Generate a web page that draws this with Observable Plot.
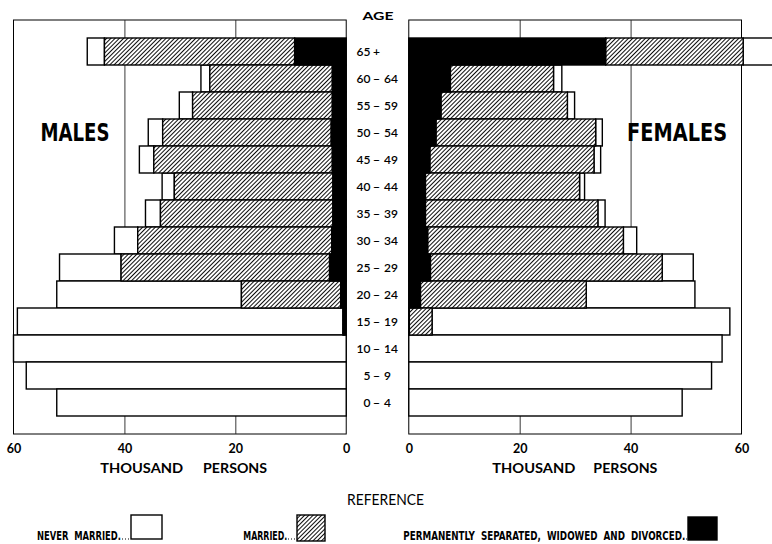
<!DOCTYPE html>
<html><head><meta charset="utf-8">
<script src="https://cdn.jsdelivr.net/npm/d3@7"></script>
<script src="https://cdn.jsdelivr.net/npm/@observablehq/plot@0.6"></script>
<style>
body{margin:0;background:#fff;width:772px;height:544px;overflow:hidden;position:relative}
#chart svg{display:block}
#legend svg{display:block}
</style></head><body>
<svg width="0" height="0" style="position:absolute"><defs>
<pattern id="hatch" patternUnits="userSpaceOnUse" width="3" height="3" patternTransform="rotate(45)">
<rect width="3" height="3" fill="white"/><line x1="0.5" y1="-1" x2="0.5" y2="4" stroke="black" stroke-width="0.95"/></pattern></defs></svg>
<div id="chart"></div>
<div id="legend"></div>
<script>
// ---- data (thousand persons) ----
const ages = ["65+","60-64","55-59","50-54","45-49","40-44","35-39","30-34","25-29","20-24","15-19","10-14","5-9","0-4"];
const ageLow  = ["65","60","55","50","45","40","35","30","25","20","15","10","5","0"];
const ageSep  = ["+","−","−","−","−","−","−","−","−","−","−","−","−","−"];
const ageHigh = ["","64","59","54","49","44","39","34","29","24","19","14","9","4"];

const maleNever   = [3.1, 1.6, 2.4, 2.6, 2.6, 2.2, 2.7, 4.2, 11.1, 33.3, 58.7, 60.0, 57.7, 52.2];
const maleMarried = [34.3, 22.1, 25.2, 30.4, 32.2, 28.6, 31.1, 35.0, 37.6, 17.9, 0.2, 0, 0, 0];
const malePSWD    = [9.3, 2.5, 2.5, 2.7, 2.5, 2.4, 2.4, 2.6, 3.0, 1.0, 0.4, 0, 0, 0];

const femaleNever   = [7.5, 1.5, 1.3, 1.2, 1.2, 0.9, 1.3, 2.4, 5.6, 19.6, 53.7, 56.5, 54.6, 49.3];
const femaleMarried = [24.8, 18.6, 22.8, 28.8, 29.6, 27.8, 31.1, 35.3, 41.8, 29.9, 4.1, 0, 0, 0];
const femalePSWD    = [35.5, 7.5, 5.8, 4.9, 3.8, 3.0, 3.0, 3.4, 3.9, 2.1, 0.1, 0, 0, 0];

const tickValues = [60, 40, 20, 0];
const gridValues = [20, 40];

// ---- build table: males to the left, females to the right of a central gap ----
const G = 5.64; // half-width of the central age-label gap, in thousand persons
const rows = [];
ages.forEach((age, i) => {
  const sides = [
    ["M", -1, [malePSWD, maleMarried, maleNever]],
    ["F", 1, [femalePSWD, femaleMarried, femaleNever]]
  ];
  for (const [sex, sign, arrs] of sides) {
    let start = 0;
    ["pswd", "married", "never"].forEach((status, k) => {
      const v = arrs[k][i];
      if (v > 0) rows.push({age, sex, status, x1: sign * (G + start), x2: sign * (G + start + v)});
      start += v;
    });
  }
});
const labels = ages.map((age, i) => ({age, lo: ageLow[i], sep: ageSep[i], hi: ageHigh[i]}));
const panels = [{x1: -(G + 60), x2: -G}, {x1: G, x2: G + 60}];
const grid = gridValues.flatMap(v => [-(G + v), G + v]);
const ticksL = tickValues.map(v => ({v, x: -(G + v)}));
const ticksR = tickValues.map(v => ({v, x: G + v}));

const barOpts = {x1: "x1", x2: "x2", y: "age", stroke: "black", strokeWidth: 1.4};
const ageFont = {fontSize: 12, fontWeight: 600};
const chart = Plot.plot({
  width: 772, height: 484,
  marginTop: 20, marginBottom: 50, marginLeft: 0, marginRight: 0,
  x: {domain: [-(60 + G), 60 + G], range: [13.5, 741.5], axis: null},
  y: {domain: ages, axis: null, paddingInner: 0, paddingOuter: 0.43},
  style: {fontFamily: "Lato, sans-serif", background: "white", color: "black", overflow: "hidden"},
  marks: [
    Plot.rect(panels, {x1: "x1", x2: "x2", fill: "white", stroke: "black", strokeWidth: 1}),
    Plot.ruleX(grid, {x: d => d, stroke: "#222", strokeWidth: 0.9}),
    Plot.barX(rows, {...barOpts, filter: d => d.status === "never", fill: "white"}),
    Plot.barX(rows, {...barOpts, filter: d => d.status === "married", fill: "url(#hatch)"}),
    Plot.barX(rows, {...barOpts, filter: d => d.status === "pswd", fill: "black"}),
    // age labels
    Plot.text(labels, {x: () => 0, y: "age", text: "lo", textAnchor: "end", dx: -7.5, ...ageFont}),
    Plot.text(labels, {x: () => 0, y: "age", text: "sep", dx: -1.5, ...ageFont}),
    Plot.text(labels, {x: () => 0, y: "age", text: "hi", textAnchor: "start", dx: 6, ...ageFont}),
    Plot.text(["AGE"], {x: () => 0, frameAnchor: "top", lineAnchor: "bottom", dy: -1, fontSize: 12, fontWeight: "bold"}),
    // tick labels
    Plot.text(ticksL, {x: "x", text: d => String(d.v), frameAnchor: "bottom", dy: 18, fontSize: 12.5, fontWeight: "bold"}),
    Plot.text(ticksR, {x: "x", text: d => String(d.v), frameAnchor: "bottom", dy: 18, fontSize: 12.5, fontWeight: "bold"}),
    // axis titles
    Plot.text(["THOUSAND"], {x: () => -(G + 30), frameAnchor: "bottom", dy: 38, dx: -38.7, fontSize: 13, fontWeight: "bold"}),
    Plot.text(["PERSONS"], {x: () => -(G + 30), frameAnchor: "bottom", dy: 38, dx: 54.7, fontSize: 13, fontWeight: "bold"}),
    Plot.text(["THOUSAND"], {x: () => G + 30, frameAnchor: "bottom", dy: 38, dx: -41.8, fontSize: 13, fontWeight: "bold"}),
    Plot.text(["PERSONS"], {x: () => G + 30, frameAnchor: "bottom", dy: 38, dx: 49.7, fontSize: 13, fontWeight: "bold"}),
    // panel titles
    Plot.text(["MALES"], {x: () => -(G + 49), y: () => "50-54", fontSize: 25, fontWeight: "bold", fontFamily: "DejaVu Sans Condensed, DejaVu Sans"}),
    Plot.text(["FEMALES"], {x: () => G + 48.3, y: () => "50-54", fontSize: 25, fontWeight: "bold", fontFamily: "DejaVu Sans Condensed, DejaVu Sans"})
  ]
});
document.getElementById("chart").append(chart);

const fitLen = {"MALES": 69, "FEMALES": 100, "THOUSAND": 83, "PERSONS": 64, "AGE": 31};
d3.select(chart).selectAll("text").each(function () {
  const t = this.textContent;
  if (fitLen[t]) d3.select(this).attr("textLength", fitLen[t]).attr("lengthAdjust", "spacingAndGlyphs");
});

// ---- legend below ----
const leg = d3.select("#legend").append("svg").attr("width", 772).attr("height", 60)
  .style("font-family", "'DejaVu Sans Condensed', 'DejaVu Sans', sans-serif");
leg.append("text").attr("x", 347).attr("y", 21).attr("textLength", 77).attr("lengthAdjust", "spacingAndGlyphs")
  .style("font-family", "Lato, sans-serif").style("font-size", "15px").text("REFERENCE");
const legendItems = [
  {label: "NEVER  MARRIED.", x: 37, len: 84, dots: [122, 131], box: [131, 31, 31, 24], fill: "white"},
  {label: "MARRIED.", x: 243.3, len: 44, dots: [288, 297], box: [297, 31, 28, 26], fill: "url(#hatch)"},
  {label: "PERMANENTLY  SEPARATED,  WIDOWED  AND  DIVORCED.", x: 403.3, len: 282, dots: [686, 688], box: [688, 33, 29, 23], fill: "black"}
];
for (const it of legendItems) {
  leg.append("text").attr("x", it.x).attr("y", 55.5).attr("textLength", it.len).attr("lengthAdjust", "spacingAndGlyphs")
    .style("font-size", "12.5px").style("font-weight", "bold").style("white-space", "pre").text(it.label);
  leg.append("line").attr("x1", it.dots[0]).attr("x2", it.dots[1]).attr("y1", 55).attr("y2", 55)
    .attr("stroke", "black").attr("stroke-width", 1).attr("stroke-dasharray", "1,2");
  leg.append("rect").attr("x", it.box[0]).attr("y", it.box[1]).attr("width", it.box[2]).attr("height", it.box[3])
    .attr("fill", it.fill).attr("stroke", "black").attr("stroke-width", 1.4);
}
</script>
</body></html>
